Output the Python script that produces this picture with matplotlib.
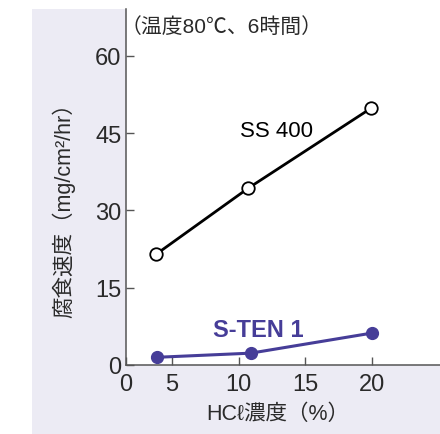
import matplotlib
matplotlib.use('Agg')
import matplotlib.pyplot as plt
from matplotlib.patches import Rectangle

plt.rcParams['font.family'] = ['Liberation Sans', 'Noto Sans CJK JP', 'DejaVu Sans']

# data
hcl_ss400 = [3.8, 10.7, 19.9]
rate_ss400 = [21.5, 34.3, 49.8]
hcl_sten = [3.9, 10.9, 20.0]
rate_sten = [1.5, 2.3, 6.2]

x_ticks = [1.5, 5, 10, 15, 20]
x_ticklabels = ['0', '5', '10', '15', '20']
y_ticks = [0, 15, 30, 45, 60]

purple = '#463d98'
txt = '#2a2a2a'

W, H = 440, 435
fig = plt.figure(figsize=(W / 100, H / 100), dpi=100)
fig.patch.set_facecolor('white')
fig.patches.append(Rectangle((32 / W, 0), 1 - 32 / W, 425 / H, transform=fig.transFigure,
                             facecolor='#ecebf4', edgecolor='none', zorder=-5))

ax = fig.add_axes([125.5 / W, (H - 366) / H, (W - 125.5) / W, (366 - 10) / H])
ax.set_zorder(2)
ax.set_facecolor('white')

ax.plot(hcl_ss400, rate_ss400, color='black', lw=2, marker='o', ms=9,
        mfc='white', mec='black', mew=1.3, clip_on=False, zorder=3)
ax.plot(hcl_sten, rate_sten, color=purple, lw=2.2, marker='o', ms=8.5,
        mfc=purple, mec=purple, clip_on=False, zorder=3)

ax.set_xlim(1.5, 25.1)
ax.set_ylim(0, 69.1)
ax.set_xticks(x_ticks)
ax.set_xticklabels(x_ticklabels)
ax.set_yticks(y_ticks)

for s in ['top', 'right']:
    ax.spines[s].set_visible(False)
for s in ['left', 'bottom']:
    ax.spines[s].set_color('#555555')
    ax.spines[s].set_linewidth(1.1)
ax.tick_params(direction='in', length=6, width=1, color='#555555',
               labelsize=17, labelcolor=txt, pad=3)
ax.tick_params(axis='x', pad=6)

ax.text(1.1, 65.8, '（温度80℃、6時間）', fontsize=15, color=txt, va='center', ha='left')
ax.text(12.8, 45.6, 'SS 400', fontsize=16, color='black', ha='center', va='center')
ax.text(11.45, 6.9, 'S-TEN 1', fontsize=17, color=purple, fontweight='bold',
        ha='center', va='center')

fig.text(64 / W, 1 - 205 / H, '腐食速度（mg/cm²/hr）', rotation=90, fontsize=15.5,
         color=txt, ha='center', va='center')
fig.text(278 / W, 1 - 414 / H, 'HCℓ濃度（%）', fontsize=15.5, color=txt,
         ha='center', va='center')

fig.savefig('out.png', dpi=100)
